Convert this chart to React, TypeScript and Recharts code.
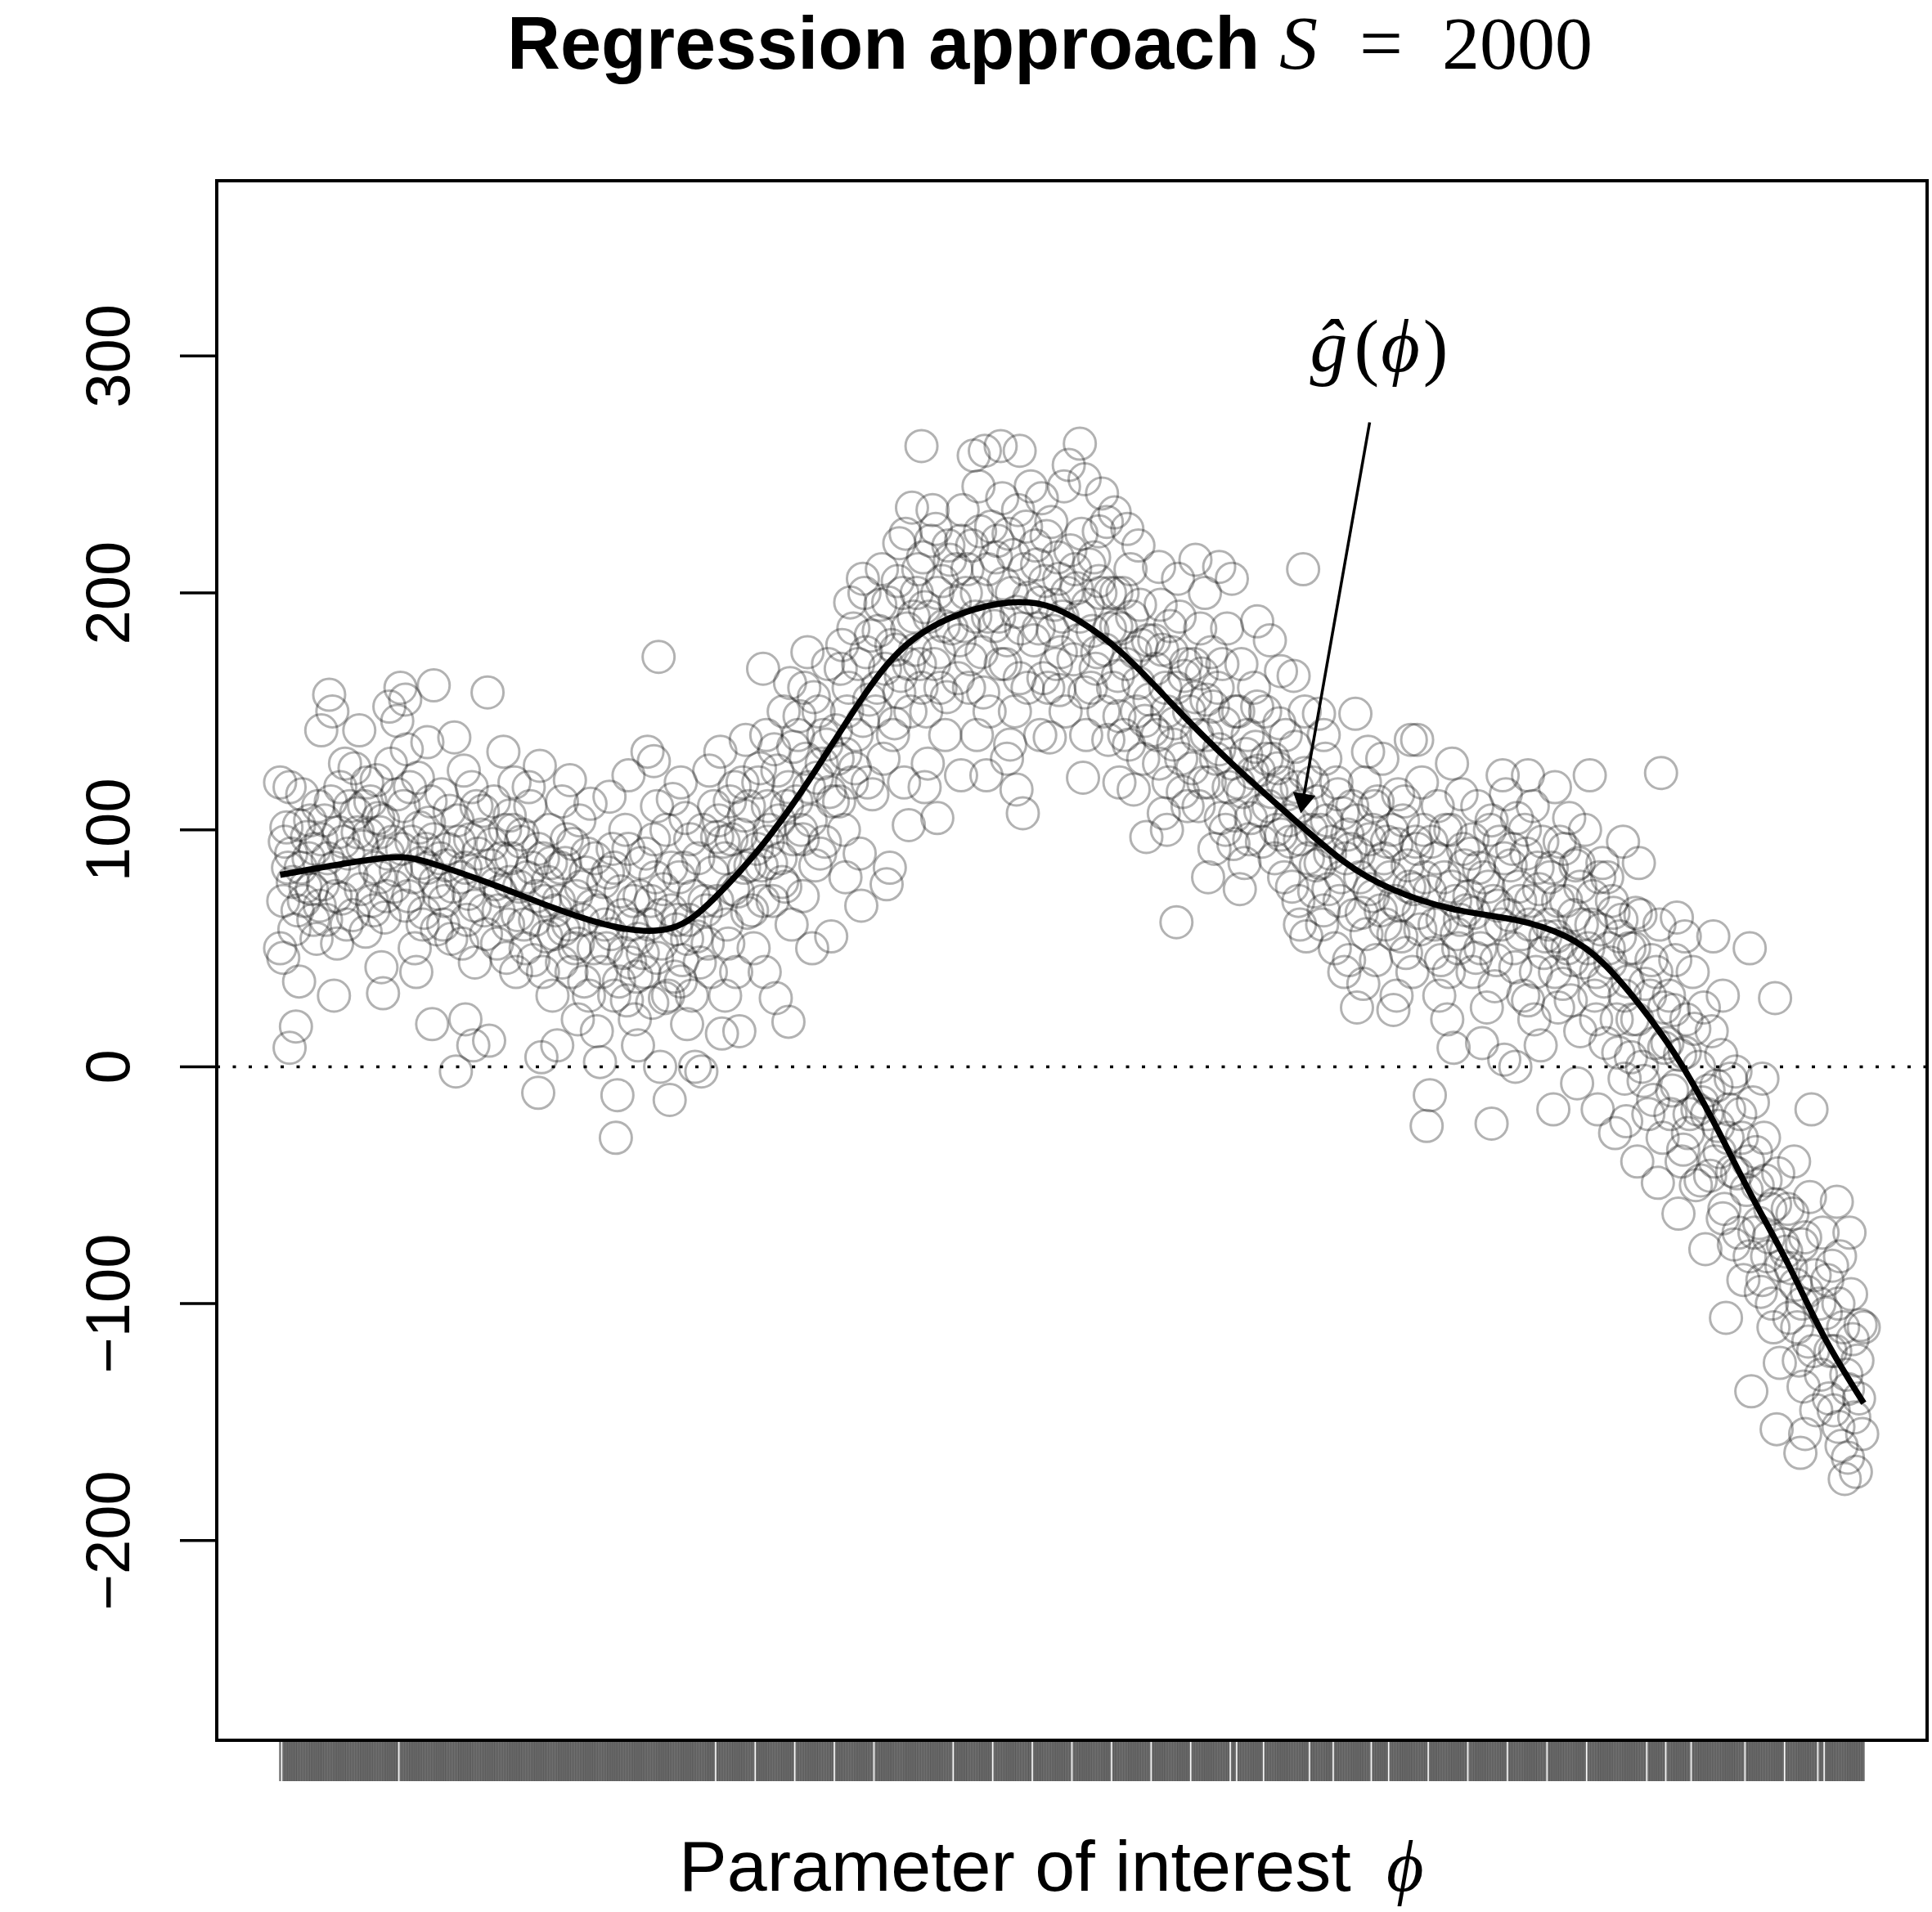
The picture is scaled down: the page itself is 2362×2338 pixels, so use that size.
import { ComposedChart, Scatter, Line, XAxis, YAxis, ReferenceLine, ReferenceArea } from 'recharts';

// axis ranges (R pads x by 4%, y limits are set by hand)
const X_DOMAIN = [-0.04, 1.04];
const Y_DOMAIN = [-284.3, 374];
const Y_TICKS = [-200, -100, 0, 100, 200, 300];

// fitted curve g-hat(phi)
const curveX = [0, 0.064, 0.095, 0.134, 0.173, 0.212, 0.247, 0.274, 0.305, 0.336, 0.368, 0.399, 0.438, 0.473, 0.5, 0.531,
  0.562, 0.601, 0.64, 0.671, 0.702, 0.741, 0.78, 0.812, 0.835, 0.858, 0.882, 0.905, 0.928, 0.952, 0.975, 1];
const curveY = [81, 88, 86, 77, 67, 59, 58.5, 71, 94, 123, 156, 180, 193, 196, 190, 175,
  154, 128, 104.5, 87, 75, 66.5, 62, 55, 44, 26.5, 4, -23, -53, -83, -114, -142];

// simulated draws in five stretches of phi
const cloudA = [
  [0, 120], [0.006, 118], [0, 50], [0.002, 46], [0.006, 8], [0.01, 17], [0.012, 36], [0.003, 95], [0.008, 78], [0.012, 102],
  [0.015, 70], [0.018, 88], [0.021, 62], [0.024, 110], [0.005, 84], [0.017, 97], [0.02, 75], [0.023, 54], [0.011, 66],
  [0.031, 157], [0.033, 150], [0.026, 142], [0.034, 30], [0.05, 142], [0.028, 104], [0.03, 88], [0.035, 72], [0.038, 118],
  [0.04, 95], [0.042, 60], [0.045, 81], [0.047, 126], [0.049, 99], [0.036, 52], [0.044, 110], [0.027, 77],
  [0.069, 152], [0.065, 31], [0.074, 146], [0.052, 93], [0.055, 120], [0.058, 70], [0.06, 84], [0.062, 105], [0.064, 42],
  [0.066, 63], [0.068, 90], [0.07, 128], [0.072, 76], [0.054, 57], [0.057, 112], [0.063, 99], [0.073, 83],
  [0.076, 160], [0.079, 155], [0.097, 161], [0.093, 137], [0.096, 18], [0.078, 110], [0.081, 72], [0.083, 95], [0.085, 50],
  [0.087, 122], [0.089, 86], [0.091, 65], [0.094, 103], [0.098, 78], [0.08, 134], [0.086, 40], [0.092, 92], [0.099, 58],
  [0.11, 139], [0.117, 20], [0.122, 9], [0.111, -2], [0.102, 115], [0.104, 70], [0.106, 92], [0.108, 54], [0.112, 104],
  [0.114, 80], [0.116, 125], [0.118, 62], [0.12, 96], [0.123, 44], [0.124, 110], [0.105, 85], [0.119, 73],
  [0.131, 158], [0.132, 11], [0.141, 133], [0.127, 98], [0.129, 66], [0.133, 85], [0.135, 112], [0.137, 52], [0.139, 74],
  [0.142, 100], [0.144, 60], [0.146, 88], [0.148, 120], [0.149, 40], [0.136, 77], [0.145, 106],
  [0.164, 127], [0.163, -11], [0.165, 4], [0.175, 9], [0.152, 95], [0.154, 60], [0.156, 80], [0.158, 110], [0.16, 45],
  [0.162, 72], [0.166, 88], [0.168, 55], [0.17, 100], [0.172, 30], [0.174, 66], [0.157, 118], [0.169, 78],
  [0.183, 121], [0.196, 111], [0.186, 50], [0.2, 15], [0.177, 84], [0.179, 58], [0.181, 96], [0.184, 40], [0.187, 72],
  [0.189, 104], [0.191, 62], [0.193, 82], [0.195, 30], [0.198, 50], [0.178, 112], [0.188, 20], [0.194, 90],
];

const cloudB = [
  [0.208, 114], [0.202, 2], [0.212, -30], [0.213, -12], [0.22, 123], [0.204, 78], [0.206, 50], [0.21, 92], [0.214, 36],
  [0.216, 64], [0.218, 100], [0.221, 44], [0.223, 70], [0.224, 20], [0.205, 60], [0.211, 84], [0.219, 28],
  [0.239, 173], [0.232, 133], [0.236, 129], [0.248, 113], [0.226, 9], [0.243, 29], [0.24, 0], [0.246, -14], [0.235, 27],
  [0.227, 72], [0.229, 48], [0.231, 90], [0.233, 60], [0.237, 80], [0.241, 52], [0.244, 100], [0.247, 66], [0.249, 38],
  [0.238, 110], [0.242, 75],
  [0.262, 0], [0.266, -2], [0.27, 52], [0.276, 97], [0.271, 125], [0.252, 80], [0.254, 45], [0.256, 105], [0.258, 62],
  [0.26, 30], [0.264, 88], [0.268, 70], [0.272, 40], [0.274, 110], [0.257, 18], [0.263, 55], [0.253, 120],
  [0.278, 133], [0.29, 15], [0.279, 14], [0.294, 138], [0.28, 95], [0.282, 60], [0.284, 112], [0.286, 75], [0.288, 40],
  [0.291, 98], [0.292, 120], [0.295, 65], [0.297, 85], [0.299, 50], [0.281, 30], [0.293, 106],
  [0.305, 168], [0.321, 19], [0.313, 29], [0.306, 40], [0.302, 120], [0.304, 85], [0.307, 140], [0.309, 100], [0.311, 70],
  [0.314, 125], [0.316, 88], [0.318, 150], [0.32, 110], [0.323, 60], [0.324, 135], [0.308, 95], [0.317, 78],
  [0.322, 162], [0.333, 175], [0.336, 50], [0.348, 55], [0.327, 140], [0.329, 100], [0.331, 160], [0.334, 118],
  [0.338, 85], [0.34, 150], [0.342, 128], [0.344, 95], [0.346, 170], [0.349, 112], [0.33, 72], [0.343, 140],
  [0.368, 206], [0.367, 68], [0.36, 196], [0.352, 130], [0.354, 168], [0.356, 100], [0.358, 150], [0.361, 120],
  [0.362, 185], [0.364, 140], [0.366, 90], [0.37, 175], [0.372, 155], [0.374, 115], [0.357, 80], [0.369, 200],
  [0.391, 221], [0.399, 236], [0.385, 84], [0.397, 102], [0.377, 160], [0.379, 195], [0.381, 130], [0.383, 77],
  [0.386, 178], [0.388, 145], [0.39, 205], [0.392, 165], [0.394, 120], [0.396, 185], [0.398, 150], [0.38, 210], [0.395, 225],
];

const cloudC = [
  [0.405, 262], [0.414, 227], [0.415, 105], [0.407, 118], [0.402, 200], [0.404, 170], [0.406, 215], [0.408, 150],
  [0.41, 190], [0.412, 235], [0.416, 175], [0.418, 205], [0.42, 140], [0.422, 220], [0.424, 185], [0.409, 128], [0.417, 160],
  [0.438, 258], [0.445, 260], [0.43, 123], [0.446, 123], [0.427, 210], [0.429, 180], [0.431, 235], [0.433, 200],
  [0.435, 160], [0.437, 220], [0.439, 190], [0.441, 245], [0.443, 175], [0.447, 210], [0.448, 150], [0.44, 140], [0.449, 228],
  [0.455, 262], [0.467, 260], [0.469, 107], [0.465, 117], [0.461, 136], [0.452, 215], [0.454, 190], [0.456, 240],
  [0.458, 170], [0.46, 225], [0.462, 200], [0.464, 150], [0.466, 235], [0.468, 185], [0.47, 210], [0.472, 160],
  [0.474, 245], [0.459, 130],
  [0.498, 254], [0.486, 139], [0.492, 159], [0.477, 220], [0.479, 185], [0.481, 240], [0.483, 205], [0.485, 160],
  [0.487, 230], [0.489, 195], [0.491, 215], [0.493, 175], [0.495, 245], [0.497, 200], [0.48, 140], [0.496, 150],
  [0.505, 263], [0.508, 248], [0.519, 242], [0.507, 122], [0.523, 138], [0.502, 210], [0.504, 180], [0.506, 225],
  [0.51, 195], [0.512, 160], [0.514, 215], [0.516, 175], [0.518, 200], [0.52, 150], [0.522, 230], [0.524, 185],
  [0.509, 140], [0.517, 205],
  [0.527, 234], [0.535, 227], [0.547, 97], [0.539, 117], [0.528, 200], [0.529, 165], [0.531, 185], [0.533, 140],
  [0.537, 210], [0.54, 175], [0.541, 150], [0.543, 195], [0.545, 130], [0.548, 180], [0.549, 155], [0.53, 120], [0.542, 220],
  [0.566, 61], [0.558, 107], [0.555, 211], [0.567, 206], [0.552, 180], [0.554, 140], [0.556, 195], [0.559, 160],
  [0.561, 120], [0.563, 175], [0.565, 145], [0.568, 190], [0.569, 130], [0.571, 165], [0.573, 110], [0.574, 150], [0.56, 100],
  [0.578, 214], [0.59, 92], [0.586, 80], [0.593, 211], [0.577, 170], [0.579, 140], [0.581, 185], [0.583, 120],
  [0.585, 155], [0.588, 175], [0.591, 130], [0.592, 160], [0.594, 105], [0.596, 145], [0.598, 185], [0.599, 118], [0.584, 200],
];

const cloudD = [
  [0.601, 206], [0.617, 188], [0.602, 94], [0.609, 86], [0.603, 150], [0.605, 120], [0.607, 170], [0.611, 140],
  [0.613, 105], [0.615, 160], [0.618, 125], [0.62, 95], [0.622, 150], [0.624, 110], [0.606, 75], [0.616, 135],
  [0.646, 210], [0.648, 55], [0.632, 167], [0.64, 165], [0.625, 180], [0.627, 130], [0.629, 100], [0.631, 145],
  [0.634, 80], [0.636, 115], [0.638, 95], [0.641, 135], [0.643, 70], [0.645, 110], [0.647, 150], [0.649, 88],
  [0.633, 120], [0.644, 60],
  [0.675, 45], [0.656, 149], [0.671, 107], [0.652, 120], [0.654, 85], [0.657, 100], [0.658, 60], [0.66, 130],
  [0.662, 75], [0.664, 95], [0.666, 50], [0.668, 115], [0.67, 80], [0.672, 40], [0.674, 98], [0.659, 140],
  [0.679, 149], [0.68, 25], [0.687, 133], [0.677, 110], [0.681, 90], [0.683, 65], [0.685, 120], [0.688, 75],
  [0.69, 100], [0.692, 45], [0.694, 85], [0.696, 130], [0.698, 60], [0.699, 95], [0.684, 35], [0.691, 110],
  [0.703, 24], [0.718, 138], [0.724, -25], [0.714, 138], [0.702, 100], [0.704, 70], [0.706, 115], [0.708, 55],
  [0.71, 112], [0.712, 85], [0.715, 40], [0.717, 95], [0.719, 65], [0.721, 120], [0.723, 80], [0.705, 30], [0.716, 75],
  [0.726, -12], [0.741, 8], [0.74, 128], [0.727, 95], [0.729, 60], [0.731, 110], [0.733, 45], [0.735, 80],
  [0.737, 20], [0.739, 100], [0.742, 70], [0.744, 50], [0.746, 115], [0.748, 85], [0.732, 30], [0.745, 62],
  [0.765, -24], [0.773, 3], [0.753, 40], [0.772, 123], [0.752, 90], [0.754, 65], [0.756, 110], [0.758, 50],
  [0.76, 80], [0.762, 25], [0.764, 100], [0.766, 70], [0.768, 45], [0.77, 95], [0.771, 60], [0.774, 115], [0.759, 10],
  [0.788, 123], [0.796, 9], [0.777, 85], [0.779, 50], [0.781, 105], [0.783, 70], [0.785, 30], [0.787, 90],
  [0.789, 60], [0.791, 110], [0.793, 40], [0.795, 75], [0.797, 95], [0.799, 55], [0.78, 0], [0.792, 20],
];

const cloudE = [
  [0.804, -18], [0.819, -7], [0.805, 118], [0.82, 86], [0.802, 80], [0.806, 55], [0.808, 95], [0.81, 35],
  [0.812, 70], [0.814, 105], [0.816, 45], [0.818, 85], [0.821, 15], [0.822, 60], [0.824, 100], [0.807, 25], [0.813, 50],
  [0.827, 123], [0.832, -18], [0.843, -28], [0.85, -23], [0.835, 86], [0.828, 60], [0.83, 30], [0.833, 80],
  [0.837, 10], [0.839, 50], [0.841, 70], [0.844, 20], [0.846, 55], [0.848, 95], [0.849, -5], [0.831, 40], [0.842, 65],
  [0.872, 124], [0.858, 86], [0.87, -49], [0.852, 50], [0.854, 20], [0.856, 65], [0.86, 0], [0.862, 35],
  [0.864, -20], [0.866, 45], [0.868, 10], [0.871, 60], [0.873, -30], [0.874, 25], [0.857, -40],
  [0.882, 63], [0.883, -62], [0.9, -77], [0.877, 30], [0.879, -10], [0.881, 45], [0.884, 5], [0.886, -35],
  [0.888, 20], [0.89, -20], [0.892, 40], [0.894, -50], [0.896, 0], [0.898, -15], [0.899, 25], [0.887, 55],
  [0.905, 55], [0.913, -106], [0.902, -10], [0.904, 15], [0.906, -40], [0.908, -25], [0.91, 5], [0.912, -60],
  [0.914, -30], [0.916, -5], [0.918, -75], [0.92, -45], [0.922, -20], [0.924, -90], [0.911, 30],
  [0.928, 50], [0.929, -137], [0.944, 29], [0.945, -153], [0.927, -40], [0.93, -15], [0.931, -70], [0.933, -50],
  [0.935, -95], [0.937, -30], [0.939, -80], [0.941, -60], [0.943, -110], [0.946, -45], [0.947, -125], [0.949, -75],
  [0.936, -5],
  [0.967, -18], [0.96, -163], [0.952, -60], [0.954, -85], [0.956, -40], [0.958, -110], [0.961, -75], [0.962, -135],
  [0.964, -95], [0.966, -55], [0.968, -120], [0.97, -145], [0.972, -100], [0.974, -70], [0.963, -155],
  [0.983, -57], [0.988, -174], [0.995, -171], [0.991, -70], [0.998, -109], [0.977, -90], [0.979, -120], [0.981, -145],
  [0.984, -100], [0.986, -160], [0.989, -130], [0.993, -115], [0.997, -140], [0.999, -155], [1.0, -110], [0.985, -80],
  [0.99, -165],
];

// the dense middle of the cloud, close to the curve
const coreA = [
  [0.002, 70], [0.004, 101], [0.007, 90], [0.009, 58], [0.013, 84], [0.014, 115], [0.016, 76], [0.019, 104], [0.022, 92], [0.025, 68],
  [0.026, 96], [0.029, 62], [0.032, 112], [0.034, 84], [0.037, 99], [0.039, 71], [0.041, 128], [0.043, 90], [0.046, 64], [0.048, 107],
  [0.051, 75], [0.053, 110], [0.056, 98], [0.059, 66], [0.061, 121], [0.063, 80], [0.065, 104], [0.067, 72], [0.071, 95], [0.074, 115],
  [0.077, 92], [0.079, 68], [0.082, 118], [0.084, 80], [0.088, 101], [0.09, 60], [0.093, 84], [0.095, 112], [0.097, 96], [0.1, 73],
  [0.101, 88], [0.103, 60], [0.107, 108], [0.109, 76], [0.113, 95], [0.115, 52], [0.117, 84], [0.121, 118], [0.123, 68], [0.125, 90],
  [0.126, 82], [0.128, 108], [0.13, 56], [0.134, 94], [0.138, 66], [0.14, 88], [0.143, 46], [0.145, 78], [0.147, 100], [0.15, 64],
  [0.151, 76], [0.153, 98], [0.155, 50], [0.159, 84], [0.161, 62], [0.163, 92], [0.166, 40], [0.167, 70], [0.171, 86], [0.173, 56],
  [0.176, 70], [0.178, 44], [0.18, 86], [0.182, 60], [0.185, 94], [0.188, 52], [0.19, 76], [0.192, 36], [0.197, 68], [0.199, 88],
];

const coreB = [
  [0.201, 66], [0.203, 40], [0.207, 82], [0.209, 56], [0.211, 30], [0.215, 74], [0.217, 48], [0.22, 92], [0.222, 60], [0.225, 38],
  [0.226, 54], [0.228, 86], [0.23, 40], [0.234, 70], [0.236, 96], [0.238, 46], [0.24, 64], [0.245, 30], [0.247, 84], [0.25, 58],
  [0.251, 62], [0.253, 36], [0.255, 84], [0.257, 54], [0.259, 96], [0.261, 72], [0.265, 44], [0.267, 100], [0.269, 66], [0.273, 82],
  [0.276, 70], [0.277, 104], [0.281, 88], [0.283, 52], [0.285, 96], [0.287, 118], [0.289, 74], [0.293, 84], [0.296, 110], [0.298, 66],
  [0.301, 92], [0.303, 126], [0.305, 70], [0.308, 110], [0.31, 86], [0.312, 134], [0.315, 104], [0.319, 76], [0.321, 118], [0.324, 96],
  [0.326, 112], [0.328, 148], [0.33, 96], [0.332, 130], [0.335, 104], [0.337, 156], [0.339, 122], [0.341, 90], [0.345, 136], [0.347, 116],
  [0.351, 142], [0.353, 112], [0.355, 178], [0.357, 132], [0.359, 160], [0.363, 126], [0.365, 170], [0.368, 146], [0.371, 120], [0.373, 182],
  [0.376, 150], [0.378, 184], [0.382, 168], [0.384, 196], [0.387, 140], [0.389, 176], [0.391, 158], [0.393, 200], [0.397, 170], [0.4, 190],
];

const coreC = [
  [0.401, 176], [0.403, 210], [0.405, 160], [0.407, 194], [0.411, 222], [0.413, 170], [0.415, 200], [0.419, 186], [0.421, 156], [0.423, 214],
  [0.426, 196], [0.428, 164], [0.43, 222], [0.432, 186], [0.434, 210], [0.436, 172], [0.44, 200], [0.442, 226], [0.444, 158], [0.447, 190],
  [0.451, 186], [0.453, 222], [0.455, 170], [0.457, 204], [0.459, 180], [0.463, 216], [0.465, 192], [0.467, 164], [0.471, 228], [0.473, 198],
  [0.476, 180], [0.478, 212], [0.48, 196], [0.482, 164], [0.484, 224], [0.488, 184], [0.49, 170], [0.492, 206], [0.494, 190], [0.499, 218],
  [0.501, 172], [0.503, 202], [0.505, 190], [0.508, 158], [0.511, 212], [0.513, 184], [0.515, 168], [0.517, 226], [0.521, 176], [0.524, 200],
  [0.526, 160], [0.528, 186], [0.53, 148], [0.532, 200], [0.534, 170], [0.536, 136], [0.538, 190], [0.542, 162], [0.544, 178], [0.546, 146],
  [0.551, 142], [0.553, 168], [0.555, 128], [0.557, 176], [0.56, 150], [0.562, 186], [0.564, 136], [0.566, 160], [0.57, 116], [0.572, 170],
  [0.576, 126], [0.578, 156], [0.58, 110], [0.582, 166], [0.585, 140], [0.587, 120], [0.589, 152], [0.593, 134], [0.595, 170], [0.597, 100],
];

const coreD = [
  [0.601, 128], [0.603, 106], [0.605, 150], [0.608, 116], [0.61, 132], [0.612, 96], [0.614, 124], [0.617, 152], [0.619, 108], [0.623, 130],
  [0.626, 116], [0.628, 88], [0.63, 126], [0.632, 98], [0.635, 140], [0.637, 104], [0.639, 76], [0.642, 118], [0.644, 96], [0.647, 124],
  [0.651, 100], [0.653, 74], [0.655, 112], [0.657, 86], [0.659, 66], [0.661, 104], [0.663, 90], [0.667, 120], [0.669, 70], [0.673, 88],
  [0.676, 92], [0.678, 64], [0.68, 104], [0.682, 80], [0.686, 56], [0.688, 96], [0.69, 72], [0.693, 112], [0.695, 66], [0.697, 88],
  [0.701, 80], [0.703, 56], [0.705, 94], [0.707, 68], [0.709, 104], [0.711, 48], [0.713, 76], [0.718, 92], [0.72, 58], [0.722, 100],
  [0.726, 74], [0.728, 48], [0.73, 88], [0.734, 62], [0.736, 100], [0.738, 40], [0.74, 76], [0.743, 56], [0.747, 92], [0.749, 66],
  [0.751, 72], [0.753, 96], [0.755, 46], [0.757, 84], [0.761, 58], [0.763, 76], [0.765, 104], [0.767, 34], [0.769, 68], [0.773, 88],
  [0.776, 64], [0.778, 92], [0.78, 42], [0.782, 76], [0.784, 56], [0.786, 100], [0.788, 28], [0.79, 70], [0.794, 84], [0.798, 48],
];

const coreE = [
  [0.801, 60], [0.803, 84], [0.805, 40], [0.807, 70], [0.809, 52], [0.811, 92], [0.815, 28], [0.817, 64], [0.821, 76], [0.823, 44],
  [0.826, 50], [0.829, 72], [0.831, 20], [0.834, 58], [0.836, 36], [0.838, 80], [0.84, 44], [0.845, 6], [0.847, 62], [0.849, 30],
  [0.851, 36], [0.853, 4], [0.855, 50], [0.857, 20], [0.859, 64], [0.861, -6], [0.865, 30], [0.867, -14], [0.869, 40], [0.874, 8],
  [0.876, 10], [0.878, -20], [0.88, 24], [0.882, -8], [0.885, -40], [0.887, 6], [0.889, -28], [0.893, 16], [0.895, -18], [0.897, -48],
  [0.901, -20], [0.903, -46], [0.907, -8], [0.909, -36], [0.911, -64], [0.915, -18], [0.917, -44], [0.919, -2], [0.921, -70], [0.923, -30],
  [0.926, -52], [0.928, -80], [0.932, -36], [0.934, -66], [0.936, -90], [0.938, -48], [0.94, -72], [0.942, -100], [0.944, -58], [0.948, -84],
  [0.951, -78], [0.953, -106], [0.955, -62], [0.957, -92], [0.959, -124], [0.961, -100], [0.963, -72], [0.965, -116], [0.969, -88], [0.973, -130],
  [0.976, -104], [0.978, -140], [0.98, -84], [0.982, -120], [0.984, -152], [0.987, -110], [0.99, -136], [0.992, -96], [0.994, -148], [0.996, -124],
];

// annotation arrow, from under the label down to the curve
const arrowFrom = { x: 0.688, y: 272 };
const arrowTo = { x: 0.6445, y: 107 };

const points = [...cloudA, ...cloudB, ...cloudC, ...cloudD, ...cloudE, ...coreA, ...coreB, ...coreC, ...coreD, ...coreE]
  .map(([x, y]) => ({ x, y }));
const curve = curveX.map((x, i) => ({ x, y: curveY[i] }));
const rugTicks = Array.from(new Set(points.map((p) => p.x))).sort((a, b) => a - b);

const SANS = '"Liberation Sans", Arial, Helvetica, sans-serif';
const SERIF = '"Liberation Serif", "DejaVu Serif", "Times New Roman", serif';

const Ring = (props: any) => {
  const { cx, cy } = props;
  if (cx == null || cy == null) return null;
  return <circle cx={cx} cy={cy} r={19.5} fill="none" stroke="#000" strokeOpacity={0.3} strokeWidth={3} />;
};

const Arrow = (props: any) => {
  const { x1, y1, x2, y2 } = props;
  const ang = Math.atan2(y2 - y1, x2 - x1);
  const len = 28;
  const spread = Math.PI / 6;
  const ax = x2 - len * Math.cos(ang - spread);
  const ay = y2 - len * Math.sin(ang - spread);
  const bx = x2 - len * Math.cos(ang + spread);
  const by = y2 - len * Math.sin(ang + spread);
  return (
    <g>
      <line x1={x1} y1={y1} x2={x2 - 20 * Math.cos(ang)} y2={y2 - 20 * Math.sin(ang)} stroke="#000" strokeWidth={3.5} />
      <polygon points={`${x2},${y2} ${ax},${ay} ${bx},${by}`} fill="#000" />
    </g>
  );
};

const YTick = (props: any) => {
  const { x, y, payload } = props;
  const label = String(payload.value).replace('-', '\u2212');
  return (
    <text transform={`translate(${x - 60},${y}) rotate(-90)`} textAnchor="middle" fontFamily={SANS} fontSize={76} fill="#000">
      {label}
    </text>
  );
};

export default function App() {
  return (
    <div style={{ position: 'relative', width: 2362, height: 2338, background: '#fff' }}>
      <style>{'body{margin:0}'}</style>
      <ComposedChart width={2362} height={2338} margin={{ top: 221, right: 6, bottom: 150, left: 65 }}>
        <XAxis
          type="number"
          dataKey="x"
          domain={X_DOMAIN}
          ticks={rugTicks}
          interval={0}
          tick={() => <g />}
          tickSize={50}
          tickLine={{ stroke: '#000', strokeOpacity: 0.55, strokeWidth: 2.4 }}
          axisLine={false}
          height={60}
          allowDataOverflow
        />
        <YAxis
          type="number"
          dataKey="y"
          domain={Y_DOMAIN}
          ticks={Y_TICKS}
          interval={0}
          tick={<YTick />}
          tickSize={45}
          tickLine={{ stroke: '#000', strokeWidth: 3.5 }}
          axisLine={false}
          width={200}
          allowDataOverflow
        />
        <Scatter data={points} dataKey="y" shape={<Ring />} isAnimationActive={false} />
        <ReferenceLine y={0} stroke="#000" strokeWidth={3.5} strokeDasharray="4 15.5" />
        <Line data={curve} dataKey="y" type="natural" stroke="#000" strokeWidth={7.5} dot={false} isAnimationActive={false} />
        <ReferenceLine segment={[arrowFrom, arrowTo]} shape={<Arrow />} />
        <ReferenceArea
          x1={X_DOMAIN[0]}
          x2={X_DOMAIN[1]}
          y1={Y_DOMAIN[0]}
          y2={Y_DOMAIN[1]}
          fill="none"
          fillOpacity={0}
          stroke="#000"
          strokeWidth={4}
          strokeOpacity={1}
          ifOverflow="visible"
        />
      </ComposedChart>
      <svg width={2362} height={2338} style={{ position: 'absolute', left: 0, top: 0, pointerEvents: 'none' }}>
        <text x={620} y={84} fontFamily={SANS} fontWeight="bold" fontSize={90} fill="#000">Regression approach</text>
        <text x={1564} y={84} fontFamily={SERIF} fontStyle="italic" fontSize={94} fill="#000">S</text>
        <text x={1662} y={84} fontFamily={SERIF} fontSize={94} fill="#000">=</text>
        <text x={1763} y={84} fontFamily={SERIF} fontSize={92} fill="#000">2000</text>
        <text x={1686} y={454} textAnchor="middle" fontFamily={SERIF} fontSize={92} fill="#000">
          <tspan fontStyle="italic">ĝ</tspan>
          <tspan dx={8}>(</tspan>
          <tspan dx={2} fontStyle="italic">ϕ</tspan>
          <tspan dx={4}>)</tspan>
        </text>
        <text x={830} y={2312} fontFamily={SANS} fontSize={88} fill="#000">Parameter of interest</text>
        <text x={1695} y={2312} fontFamily={SERIF} fontStyle="italic" fontSize={88} fill="#000">ϕ</text>
      </svg>
    </div>
  );
}
